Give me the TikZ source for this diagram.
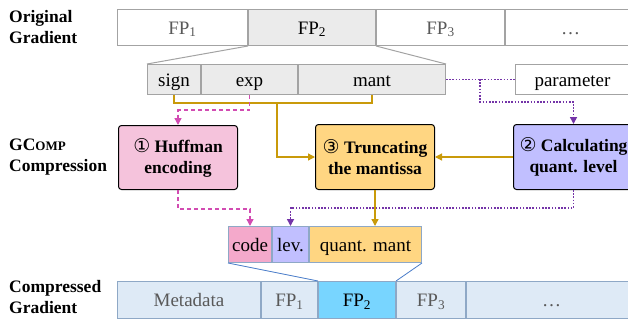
\documentclass[tikz,border=0pt]{standalone}
\usepackage{fontspec}
\setmainfont{Liberation Serif}
\newfontfamily\circfont{DejaVu Sans}
\usepackage{xcolor}
\usetikzlibrary{arrows.meta,positioning}
\definecolor{gridc}{HTML}{A3A3A3}
\definecolor{fadec}{HTML}{595959}
\definecolor{selc}{HTML}{EBEBEB}
\definecolor{huffc}{HTML}{F5C3DC}
\definecolor{codec}{HTML}{F4A9CB}
\definecolor{levc}{HTML}{C1BFFF}
\definecolor{truncc}{HTML}{FFD682}
\definecolor{packc}{HTML}{DEEAF6}
\definecolor{packb}{HTML}{8EA8C6}
\definecolor{hotc}{HTML}{78D5FF}
\definecolor{goldc}{HTML}{C99A0A}
\definecolor{pinkc}{HTML}{D24CB2}
\definecolor{purpc}{HTML}{7434A8}
\definecolor{bluel}{HTML}{4A7CC9}
\tikzset{
  cell/.style={draw=gridc,line width=1pt,minimum height=36pt,inner sep=0pt,text height=13pt,text depth=0pt,font=\fontsize{19}{21}\selectfont,text=fadec},
  field/.style={draw=gridc,line width=1pt,fill=selc,minimum height=30pt,inner sep=0pt,text height=13pt,text depth=0pt,font=\fontsize{19}{21}\selectfont},
  pcell/.style={draw=packb,line width=1pt,minimum height=37pt,inner sep=0pt,text height=13pt,text depth=0pt,fill=packc,font=\fontsize{19}{21}\selectfont,text=fadec},
  stage/.style={draw=black,line width=1pt,rounded corners=3pt,align=center,inner sep=0pt,font=\fontsize{17.5}{21}\selectfont\bfseries},
  lbl/.style={align=left,anchor=west,inner sep=0pt,font=\fontsize{17.5}{21}\selectfont\bfseries},
  goldl/.style={goldc,line width=1.3pt},
  goldar/.style={goldc,line width=1.3pt,-{Triangle[length=7pt,width=7pt]}},
  pinkar/.style={pinkc,line width=1.4pt,dash pattern=on 4pt off 3pt,-{Triangle[length=7pt,width=7pt]}},
  purpar/.style={purpc,line width=1.6pt,dash pattern=on 1.6pt off 1.6pt,-{Triangle[length=7pt,width=7pt]}},
  purpl/.style={purpc,line width=1.6pt,dash pattern=on 1.6pt off 1.6pt}
}
\newcommand{\stepno}[1]{{\circfont\fontsize{19}{21}\selectfont\mdseries #1}}
\begin{document}
\begin{tikzpicture}[x=1pt,y=-1pt]
\useasboundingbox (0,0) rectangle (628,322);
% row labels
\node[lbl] (lorig) at (9,27) {Original\\Gradient};
\node[lbl] (lcomp) at (9,157) {GC{\fontsize{13}{15}\selectfont OMP}\\Compression};
\node[lbl] (lpack) at (9,297) {Compressed\\Gradient};
% original gradient
\node[cell,anchor=north west,minimum width=130pt] (fp1) at (117,9) {FP\textsubscript{1}};
\node[cell,right=0pt of fp1,minimum width=127pt,fill=selc,text=black] (fp2) {FP\textsubscript{2}};
\node[cell,right=0pt of fp2,minimum width=128pt] (fp3) {FP\textsubscript{3}};
\node[cell,right=0pt of fp3,minimum width=130pt] (fpd) {\ldots};
% fields of FP2
\node[field,anchor=north west,minimum width=53pt] (sign) at (147,64) {sign};
\node[field,right=0pt of sign,minimum width=96pt] (exp) {exp};
\node[field,right=0pt of exp,minimum width=147pt] (mant) {mant};
\node[field,anchor=north west,minimum width=114pt,fill=white] (param) at (515,64) {parameter};
\draw[gridc,line width=1pt] (fp2.south west) -- (sign.north west);
\draw[gridc,line width=1pt] (fp2.south east) -- (mant.north east);
% stages
\node[stage,fill=huffc,anchor=north west,minimum width=119pt,minimum height=64pt] (huff) at (118,125) {\stepno{①} Huffman\\encoding};
\node[stage,fill=truncc,anchor=north west,minimum width=119pt,minimum height=65pt] (trunc) at (315,124) {\stepno{③} Truncating\\the mantissa};
\node[stage,fill=levc,anchor=north west,minimum width=120pt,minimum height=65pt] (calc) at (513,124) {\stepno{②} Calculating\\quant. level};
% compressed FP2
\node[pcell,anchor=north west,minimum width=43pt,minimum height=36pt,fill=codec,text=black] (code) at (228,226) {code};
\node[pcell,right=0pt of code,minimum width=36pt,minimum height=36pt,fill=levc,text=black] (lev) {lev.};
\node[pcell,right=0pt of lev,minimum width=112pt,minimum height=36pt,fill=truncc,text=black] (qmant) {quant. mant};
% compressed gradient
\node[pcell,anchor=north west,minimum width=143pt] (meta) at (117,281) {Metadata};
\node[pcell,right=0pt of meta,minimum width=56pt] (cfp1) {FP\textsubscript{1}};
\node[pcell,right=0pt of cfp1,minimum width=77pt,fill=hotc,text=black] (cfp2) {FP\textsubscript{2}};
\node[pcell,right=0pt of cfp2,minimum width=69pt] (cfp3) {FP\textsubscript{3}};
\node[pcell,right=0pt of cfp3,minimum width=170pt] (cdots) {\ldots};
\draw[bluel,line width=0.8pt] (code.south west) -- (cfp2.north west);
\draw[bluel,line width=0.8pt] (qmant.south east) -- (cfp2.north east);
% flows
\coordinate (tj) at (277,102);
\coordinate (pj) at (480,79);
\draw[goldl] (sign.south) -- ++(0,8) -| (mant.south);
\draw[goldar] (tj) |- (trunc.west);
\draw[goldar] (calc.west) -- (trunc.east);
\draw[goldar] (trunc.south) -- (trunc.south |- qmant.north);
\draw[pinkar] (exp.south) -- ++(0,15) -| (huff.north);
\draw[pinkar] (huff.south) -- ++(0,19) -| (code.north);
\draw[purpl] (mant.east) -- (param.west);
\draw[purpar] (pj) -- ++(0,23) -| (calc.north);
\draw[purpar] (calc.south) -- ++(0,18) -| (lev.north);
\end{tikzpicture}
\end{document}
